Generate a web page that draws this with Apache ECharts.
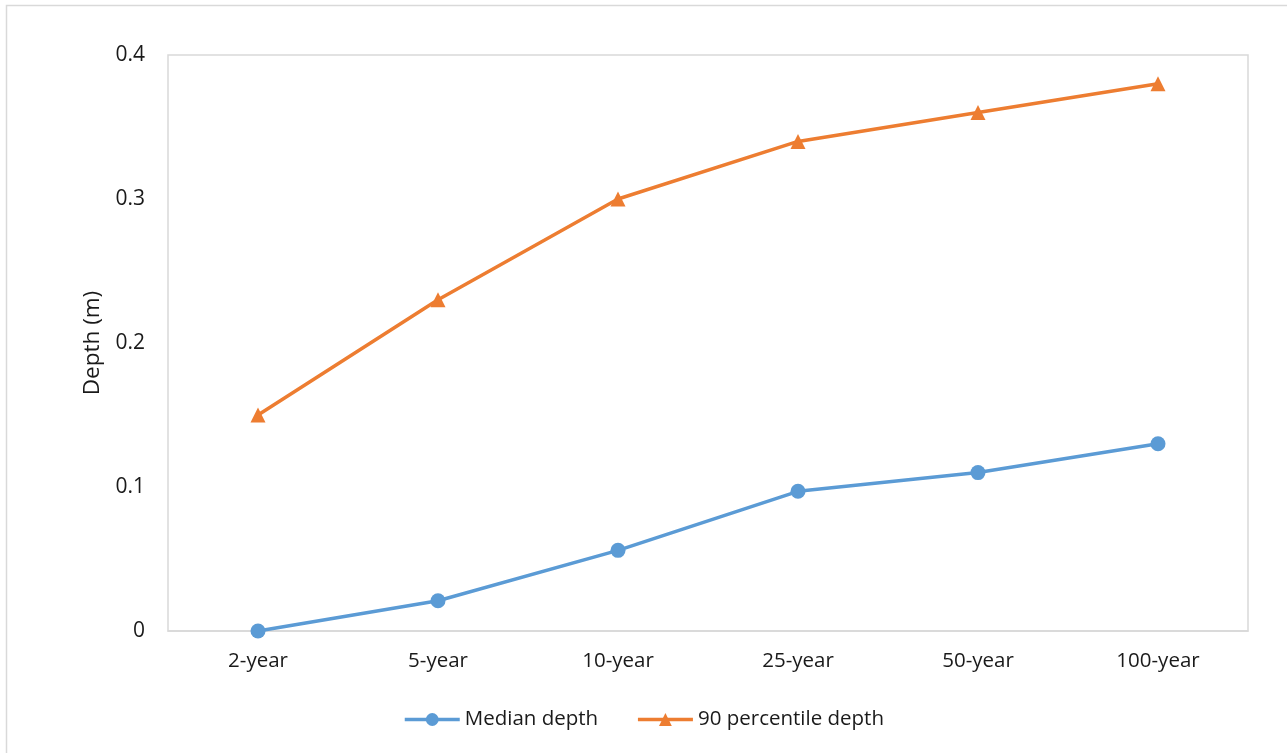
<!DOCTYPE html>
<html>
<head>
<meta charset="utf-8">
<script src="https://cdn.jsdelivr.net/npm/echarts@6/dist/echarts.min.js"></script>
<style>html,body{margin:0;padding:0;background:#fff;}#c{width:1287px;height:753px;}</style>
</head>
<body>
<div id="c"></div>
<script>
const categories = ['2-year', '5-year', '10-year', '25-year', '50-year', '100-year'];
const medianDepth = [0.0, 0.021, 0.056, 0.097, 0.11, 0.13];
const p90Depth = [0.15, 0.23, 0.30, 0.34, 0.36, 0.38];
const yTicks = [0, 0.1, 0.2, 0.3, 0.4];

const chart = echarts.init(document.getElementById('c'));
const font = '"Open Sans", "Noto Sans", sans-serif';
const fs = 20.5;
chart.setOption({
  animation: false,
  textStyle: { fontFamily: font },
  graphic: [{
    type: 'rect', shape: { x: 6.5, y: 5.5, width: 1300, height: 800 },
    style: { fill: 'none', stroke: '#d9d9d9', lineWidth: 1.5 }, silent: true
  }],
  grid: { left: 168, top: 55, width: 1080, height: 576, show: true, borderColor: '#d9d9d9', borderWidth: 1.5, backgroundColor: 'transparent' },
  legend: {
    top: 704, left: 'center', itemWidth: 55, itemHeight: 16, itemGap: 38,
    lineStyle: { width: 3.5 },
    textStyle: { fontFamily: font, fontSize: 20.5, color: '#1a1a1a' },
    data: ['Median depth', '90 percentile depth']
  },
  xAxis: {
    type: 'category', data: categories, boundaryGap: true,
    axisLine: { show: true, lineStyle: { color: '#d9d9d9', width: 1.5 } },
    axisTick: { show: false },
    axisLabel: { fontFamily: font, fontSize: fs, color: '#1a1a1a', margin: 20 }
  },
  yAxis: {
    type: 'value', min: 0, max: 0.4, interval: 0.1,
    name: 'Depth (m)', nameLocation: 'middle', nameGap: 64,
    nameTextStyle: { fontFamily: font, fontSize: 22.5, color: '#1a1a1a' },
    axisLine: { show: false }, axisTick: { show: false }, splitLine: { show: false },
    axisLabel: { fontFamily: font, fontSize: 21, color: '#1a1a1a', margin: 23,
      formatter: v => yTicks.includes(Math.round(v*10)/10) ? String(Math.round(v*10)/10) : '' }
  },
  series: [
    { name: 'Median depth', type: 'line', data: medianDepth, symbol: 'circle', symbolSize: 15,
      lineStyle: { color: '#5B9BD5', width: 3.5 }, itemStyle: { color: '#5B9BD5' } },
    { name: '90 percentile depth', type: 'line', data: p90Depth, symbol: 'triangle', symbolSize: 15,
      lineStyle: { color: '#ED7D31', width: 3.5 }, itemStyle: { color: '#ED7D31' } }
  ]
});
</script>
</body>
</html>
